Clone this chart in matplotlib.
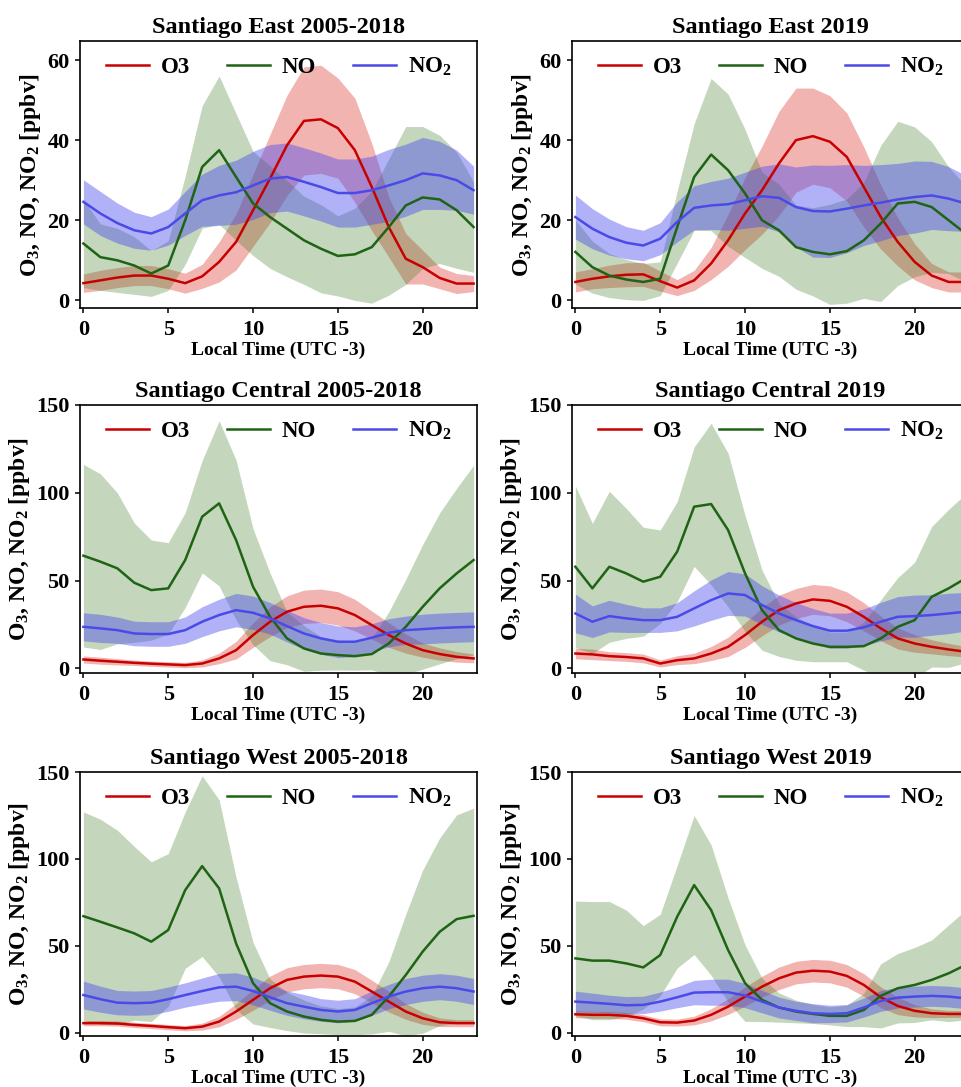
import matplotlib
matplotlib.use("Agg")
import matplotlib.pyplot as plt
import numpy as np

plt.rcParams['font.family'] = ['Liberation Serif', 'DejaVu Serif']
plt.rcParams['font.weight'] = 'bold'
plt.rcParams['mathtext.fontset'] = 'custom'
plt.rcParams['mathtext.rm'] = 'Liberation Serif:bold'
plt.rcParams['mathtext.it'] = 'Liberation Serif:bold'
plt.rcParams['mathtext.bf'] = 'Liberation Serif:bold'

hours = np.arange(24)

titles = ['Santiago East 2005-2018', 'Santiago East 2019',
          'Santiago Central 2005-2018', 'Santiago Central 2019',
          'Santiago West 2005-2018', 'Santiago West 2019']

# hourly means (ppbv)
o3_mean = [
    [4.3, 5.0, 5.7, 6.2, 6.2, 5.4, 4.3, 6.0, 9.6, 14.6, 22.5, 30.4, 38.7, 44.8, 45.2, 43.0, 37.5, 28.3, 18.3, 10.4, 8.3, 5.6, 4.2, 4.2],
    [4.6, 5.4, 6.0, 6.4, 6.5, 4.8, 3.2, 5.0, 9.2, 15.0, 21.7, 27.5, 34.2, 40.0, 41.0, 39.6, 35.8, 28.3, 20.8, 14.6, 9.6, 6.2, 4.6, 4.6],
    [5.1, 4.4, 3.8, 3.2, 2.7, 2.3, 1.9, 2.8, 5.7, 10.4, 19.0, 26.6, 32.3, 35.1, 35.7, 34.2, 30.4, 24.7, 19.0, 14.2, 10.4, 8.2, 6.6, 5.7],
    [8.5, 8.0, 7.0, 6.5, 5.7, 2.8, 4.7, 5.7, 8.5, 12.3, 19.0, 26.6, 33.2, 37.0, 39.3, 38.5, 35.1, 29.4, 22.8, 17.1, 14.2, 12.3, 10.8, 9.5],
    [5.4, 5.4, 5.2, 4.4, 3.8, 3.1, 2.5, 3.4, 6.3, 12.1, 18.8, 25.5, 30.3, 32.2, 32.8, 32.2, 29.3, 23.6, 17.8, 12.1, 8.2, 5.9, 5.4, 5.4],
    [10.5, 10.2, 10.2, 9.6, 8.2, 5.9, 5.7, 6.9, 10.2, 14.9, 20.7, 26.4, 31.2, 34.5, 35.6, 35.1, 32.6, 27.4, 20.3, 15.3, 12.5, 11.1, 10.7, 10.7],
]
no_mean = [
    [14.2, 10.8, 10.0, 8.7, 6.7, 8.7, 20.0, 33.3, 37.5, 30.8, 24.2, 20.8, 17.9, 15.0, 12.9, 11.1, 11.5, 13.3, 18.3, 23.7, 25.7, 25.2, 22.5, 18.3],
    [12.1, 8.3, 6.2, 5.2, 4.6, 5.4, 18.3, 30.8, 36.4, 32.5, 26.7, 20.0, 17.5, 13.3, 12.1, 11.5, 12.3, 15.0, 19.2, 24.2, 24.6, 23.3, 20.0, 16.7],
    [64.2, 60.8, 57.0, 48.8, 44.6, 45.6, 61.7, 86.4, 94.0, 73.1, 46.5, 29.4, 17.1, 11.4, 8.5, 7.6, 7.0, 8.2, 14.2, 23.7, 35.1, 45.6, 54.1, 61.7],
    [57.9, 45.6, 57.9, 54.1, 49.4, 52.2, 66.5, 92.1, 93.6, 78.8, 54.1, 33.2, 21.8, 17.1, 14.2, 12.3, 12.3, 12.7, 17.1, 23.7, 27.5, 40.8, 45.6, 51.3],
    [67.0, 63.8, 60.5, 57.1, 52.3, 59.0, 82.0, 95.8, 83.0, 51.3, 28.4, 16.9, 12.1, 9.2, 7.3, 6.3, 6.7, 10.2, 20.7, 33.1, 46.6, 58.0, 65.3, 67.2],
    [42.7, 41.4, 41.4, 39.8, 37.5, 44.6, 66.7, 84.9, 70.5, 47.5, 28.4, 18.8, 14.4, 12.1, 10.7, 9.6, 9.6, 13.0, 21.1, 25.5, 27.4, 30.3, 34.1, 38.9],
]
no2_mean = [
    [24.6, 21.7, 19.3, 17.5, 16.7, 18.3, 21.7, 25.0, 26.2, 27.0, 28.7, 30.4, 30.8, 29.6, 28.3, 26.8, 26.8, 27.5, 28.7, 30.0, 31.7, 31.2, 30.0, 27.5],
    [20.8, 17.9, 15.8, 14.4, 13.7, 15.4, 19.6, 23.1, 23.7, 24.0, 25.0, 26.0, 25.6, 23.3, 22.3, 22.2, 22.9, 23.7, 24.4, 25.2, 25.8, 26.2, 25.4, 24.2],
    [23.7, 22.8, 21.8, 19.9, 19.6, 19.6, 21.8, 26.6, 30.4, 33.2, 31.7, 28.5, 24.1, 19.9, 17.1, 15.2, 15.2, 17.5, 20.3, 21.8, 22.4, 23.0, 23.4, 23.7],
    [31.3, 26.6, 29.8, 28.5, 27.5, 27.5, 29.4, 34.2, 38.9, 42.7, 41.8, 36.1, 31.3, 27.5, 24.1, 21.5, 21.5, 23.4, 26.6, 29.4, 29.8, 30.4, 31.3, 32.3],
    [21.6, 19.2, 17.2, 16.9, 17.2, 19.2, 21.6, 23.9, 26.0, 26.4, 23.9, 20.3, 16.9, 14.9, 13.0, 12.1, 13.0, 16.9, 20.7, 23.6, 25.5, 26.4, 25.5, 23.6],
    [17.8, 17.2, 16.5, 15.7, 15.9, 17.8, 20.3, 23.0, 23.2, 23.2, 21.3, 17.8, 14.4, 12.5, 11.1, 10.7, 11.1, 14.4, 18.2, 20.1, 20.7, 21.1, 20.7, 19.7],
]

# hourly standard deviations (ppbv), shaded as mean +/- std
o3_std = [
    [2.3, 2.5, 2.5, 2.5, 2.5, 2.5, 2.5, 3.0, 5.0, 7.0, 9.0, 11.0, 12.5, 13.5, 13.5, 12.5, 13.0, 10.9, 7.5, 6.3, 4.2, 2.7, 2.5, 2.0],
    [2.5, 2.5, 2.8, 3.0, 3.0, 2.5, 2.0, 2.5, 4.0, 6.5, 9.0, 11.0, 13.0, 13.0, 12.0, 11.5, 11.0, 10.0, 8.0, 6.0, 4.5, 3.0, 2.5, 2.5],
    [2.0, 2.0, 1.8, 1.5, 1.5, 1.5, 1.5, 2.0, 3.0, 5.0, 7.0, 8.5, 9.0, 9.5, 9.5, 9.5, 9.0, 8.0, 7.0, 5.5, 4.0, 3.5, 3.0, 2.5],
    [3.0, 3.0, 2.5, 2.5, 2.5, 2.0, 2.5, 3.0, 4.0, 5.5, 7.0, 8.0, 8.5, 8.5, 8.5, 8.5, 8.5, 8.0, 7.0, 6.0, 5.0, 4.0, 3.5, 3.0],
    [1.5, 1.5, 1.5, 1.5, 1.5, 1.5, 1.5, 2.0, 3.0, 4.5, 6.0, 7.0, 7.0, 7.0, 7.0, 7.0, 7.0, 6.5, 6.0, 4.5, 3.5, 2.5, 2.0, 2.0],
    [2.0, 2.0, 2.0, 2.0, 2.0, 2.0, 2.0, 2.5, 3.5, 4.5, 5.5, 6.0, 6.5, 6.5, 6.5, 6.5, 6.5, 6.5, 6.0, 5.0, 3.5, 2.5, 2.0, 2.0],
]
no_std = [
    [11.0, 8.3, 8.0, 7.2, 5.7, 6.2, 11.0, 15.3, 18.5, 15.8, 13.0, 12.8, 12.0, 11.0, 11.0, 10.0, 11.5, 14.0, 17.0, 19.7, 17.7, 16.0, 14.5, 11.3],
    [8.0, 6.5, 5.5, 5.0, 4.6, 4.2, 9.0, 13.3, 19.0, 19.0, 16.0, 12.0, 11.5, 10.5, 11.0, 12.5, 13.0, 14.5, 19.5, 20.5, 18.7, 16.3, 13.3, 12.0],
    [52.0, 50.0, 43.0, 34.0, 28.5, 26.0, 27.0, 32.0, 47.0, 45.5, 33.0, 25.0, 15.0, 13.0, 9.5, 8.5, 8.0, 9.0, 18.0, 27.0, 35.5, 43.0, 48.5, 54.0],
    [46.0, 37.0, 43.0, 37.0, 31.0, 26.6, 28.5, 34.0, 46.0, 43.7, 33.0, 22.8, 15.0, 12.4, 10.4, 8.5, 8.5, 13.7, 22.0, 28.0, 33.0, 40.0, 45.0, 48.0],
    [60.0, 59.0, 56.0, 50.0, 46.0, 44.0, 45.0, 52.0, 51.0, 38.0, 23.5, 14.0, 11.0, 9.5, 8.0, 7.5, 8.0, 11.0, 20.0, 35.0, 47.0, 54.0, 60.0, 62.0],
    [33.0, 34.0, 34.0, 30.7, 24.0, 23.5, 29.5, 40.0, 37.5, 30.0, 22.0, 12.5, 8.4, 6.5, 5.5, 5.2, 6.2, 9.6, 18.5, 20.0, 21.6, 23.0, 27.8, 31.6],
]
no2_std = [
    [5.5, 5.5, 5.0, 4.5, 4.2, 4.5, 5.5, 6.5, 7.5, 8.0, 8.5, 8.5, 8.5, 8.5, 8.5, 8.5, 8.5, 8.5, 9.0, 9.0, 9.0, 8.5, 7.5, 6.0],
    [5.5, 5.0, 4.5, 4.0, 3.8, 4.0, 5.0, 5.5, 6.0, 6.5, 7.0, 7.5, 8.5, 10.0, 11.5, 11.5, 11.0, 10.0, 9.5, 9.0, 9.0, 8.5, 8.0, 7.0],
    [8.0, 8.0, 7.5, 7.0, 7.0, 7.0, 7.5, 8.5, 9.0, 9.5, 9.5, 9.0, 9.0, 9.0, 9.0, 9.0, 8.5, 8.0, 8.0, 8.0, 8.5, 8.5, 8.5, 8.5],
    [11.0, 9.0, 9.0, 8.0, 7.0, 7.0, 8.0, 10.0, 11.5, 12.5, 12.0, 11.0, 10.5, 10.0, 10.0, 10.0, 10.0, 10.5, 11.0, 11.5, 12.0, 11.5, 11.5, 11.0],
    [8.0, 7.5, 7.0, 7.0, 7.0, 7.0, 7.0, 7.5, 8.0, 8.0, 8.0, 7.5, 7.0, 7.0, 6.5, 6.5, 6.5, 7.0, 7.0, 7.5, 7.5, 7.5, 7.5, 7.5],
    [6.0, 5.5, 5.0, 5.0, 5.0, 5.5, 6.0, 7.0, 7.5, 7.5, 7.0, 6.5, 6.0, 5.5, 5.5, 5.0, 5.0, 5.5, 6.0, 6.0, 6.0, 6.0, 6.0, 6.0],
]

ylims = [(-1.9, 64.75), (-1.9, 64.75), (-2.6, 150), (-2.6, 150), (-2.0, 150), (-2.0, 150)]
yticks = [[0, 20, 40, 60], [0, 20, 40, 60], [0, 50, 100, 150], [0, 50, 100, 150],
          [0, 50, 100, 150], [0, 50, 100, 150]]

W, H = 961, 1087
fig = plt.figure(figsize=(W / 100, H / 100), dpi=100)

col_left = [80, 572]
ax_w = 397
row_top = [41, 405, 772]
row_bot = [308, 673, 1036]

line_cols = ['#c80000', '#1e6414', '#4a4ae8']
fill_cols = ['#dc2820', '#3c7a1e', '#4646f0']
fill_alpha = [0.35, 0.3, 0.42]
labels = ['O3', 'NO', 'NO$_2$']

for i in range(6):
    r, c = divmod(i, 2)
    ax = fig.add_axes([col_left[c] / W, 1 - row_bot[r] / H, ax_w / W,
                       (row_bot[r] - row_top[r]) / H])
    means = [np.array(o3_mean[i]), np.array(no_mean[i]), np.array(no2_mean[i])]
    stds = [np.array(o3_std[i]), np.array(no_std[i]), np.array(no2_std[i])]
    # shaded bands first, mean lines on top
    for m, s, fc, fa in zip(means, stds, fill_cols, fill_alpha):
        ax.fill_between(hours, m - s, m + s, color=fc, alpha=fa, linewidth=0)
    for m, lc, lab in zip(means, line_cols, labels):
        ax.plot(hours, m, color=lc, lw=1.8, label=lab)

    ax.set_xlim(-0.2, 23.2)
    ax.set_ylim(*ylims[i])
    ax.set_xticks([0, 5, 10, 15, 20])
    ax.set_yticks(yticks[i])
    ax.tick_params(labelsize=16, length=3.5, width=1.1, pad=4, top=False, right=False)
    ax.tick_params(axis='x', pad=5)
    for sp in ax.spines.values():
        sp.set_linewidth(1.2)
    ax.set_title(titles[i], fontsize=17.5, fontweight='bold', pad=6)
    ax.set_xlabel('Local Time (UTC -3)', fontsize=14, fontweight='bold', labelpad=1.5)
    ax.set_ylabel('O$_3$, NO, NO$_2$ [ppbv]', fontsize=17, fontweight='bold', labelpad=3)
    ax.legend(loc='upper center', ncol=3, frameon=False, fontsize=16.5,
              handlelength=1.9, handletextpad=0.5, columnspacing=1.6,
              borderaxespad=0.25)

fig.savefig('out.png', dpi=100)
